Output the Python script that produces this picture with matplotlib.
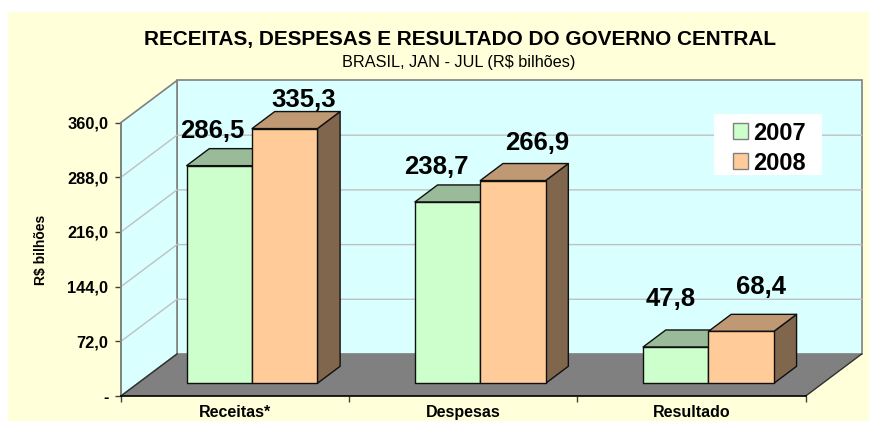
import matplotlib
matplotlib.use('Agg')
from matplotlib import pyplot as plt
from matplotlib.patches import Polygon, Patch, Rectangle

plt.rcParams['font.family'] = ['Liberation Sans', 'DejaVu Sans']

# Chart data
categories = ['Receitas*', 'Despesas', 'Resultado']
years = ['2007', '2008']
values_2007 = [286.5, 238.7, 47.8]
values_2008 = [335.3, 266.9, 68.4]
value_ticks = [0, 72, 144, 216, 288, 360]
value_tick_labels = ['-', '72,0', '144,0', '216,0', '288,0', '360,0']
value_max = 360

W, H = 869, 421

# Oblique projection: z=0 is the front plane, z=1 the back wall (in data units)
DEPTH_X = 0.2454
DEPTH_Y = 55.3
BAR_WIDTH = 0.2865
BAR_Z0, BAR_Z1 = 0.302, 0.707

GREEN = ('#CCFFCC', '#99BB99', '#668066')
ORANGE = ('#FFCC99', '#BF9973', '#80664C')

# Where each value label sits relative to the middle of its bar top (pixels)
label_shift_2007 = [(-7, 35), (-11, 35), (-5, 48)]
label_shift_2008 = [(19, 29), (24, 38), (20, 44)]


def project(x, v, z):
    return (x + z * DEPTH_X, v + z * DEPTH_Y)


def draw_walls(ax):
    back = [project(0, 0, 1), project(3, 0, 1), project(3, value_max, 1), project(0, value_max, 1)]
    side = [project(0, 0, 0), project(0, 0, 1), project(0, value_max, 1), project(0, value_max, 0)]
    floor = [project(0, 0, 0), project(3, 0, 0), project(3, 0, 1), project(0, 0, 1)]
    ax.add_patch(Polygon(back, fc='#D9FFFF', ec='#808080', lw=1.2, clip_on=False, zorder=1))
    ax.add_patch(Polygon(side, fc='#D9FFFF', ec='#808080', lw=1.2, clip_on=False, zorder=1))
    # gridlines run along the side wall and then across the back wall
    for v in value_ticks[1:-1]:
        pts = [project(0, v, 0), project(0, v, 1), project(3, v, 1)]
        ax.plot(*zip(*pts), color='#C0C0C0', lw=1.0, clip_on=False, zorder=2)
    ax.add_patch(Polygon(floor, fc='#808080', ec='none', clip_on=False, zorder=3))
    # dark edges of the floor
    for pts in ([project(0, 0, 0), project(0, 0, 1)], [project(3, 0, 0), project(3, 0, 1)]):
        ax.plot(*zip(*pts), color='#303030', lw=1.0, clip_on=False, zorder=3)


def draw_bar(ax, x0, value, colors, zorder):
    x1 = x0 + BAR_WIDTH
    front = [project(x0, 0, BAR_Z0), project(x1, 0, BAR_Z0), project(x1, value, BAR_Z0), project(x0, value, BAR_Z0)]
    top = [project(x0, value, BAR_Z0), project(x1, value, BAR_Z0), project(x1, value, BAR_Z1), project(x0, value, BAR_Z1)]
    side = [project(x1, 0, BAR_Z0), project(x1, 0, BAR_Z1), project(x1, value, BAR_Z1), project(x1, value, BAR_Z0)]
    for pts, fc in ((side, colors[2]), (top, colors[1]), (front, colors[0])):
        ax.add_patch(Polygon(pts, fc=fc, ec='#101010', lw=1.0, joinstyle='round', clip_on=False, zorder=zorder))


fig = plt.figure(figsize=(W / 100, H / 100), dpi=100, facecolor='white')
fig.add_artist(Rectangle((8 / W, 0), 1 - 8 / W, 1 - 12 / H, transform=fig.transFigure, fc='#FFFFD9', ec='none', zorder=-5))

ax = fig.add_axes([121 / W, 1 - 396 / H, (805.7 - 121) / W, (396 - 122.5) / H])
ax.patch.set_visible(False)
ax.set_xlim(0, 3)
ax.set_ylim(0, value_max)

draw_walls(ax)

for i in range(len(categories)):
    center = i + 0.5
    for x0, value, colors, shift, z in (
        (center - BAR_WIDTH, values_2007[i], GREEN, label_shift_2007[i], 4),
        (center, values_2008[i], ORANGE, label_shift_2008[i], 5),
    ):
        draw_bar(ax, x0, value, colors, z)
        ax.annotate(f'{value:.1f}'.replace('.', ','),
                    xy=project(x0 + BAR_WIDTH / 2, value, BAR_Z0),
                    xytext=(shift[0] * 0.72, shift[1] * 0.72), textcoords='offset points',
                    ha='center', va='center', fontsize=18.5, fontweight='bold',
                    color='black', zorder=8, annotation_clip=False)

# Axes, ticks and labels
for name in ('top', 'right'):
    ax.spines[name].set_visible(False)
ax.spines['left'].set_color('#808080')
ax.spines['left'].set_linewidth(1.2)
ax.spines['bottom'].set_color('black')
ax.spines['bottom'].set_linewidth(1.2)
ax.spines['bottom'].set_zorder(6)

ax.set_yticks(value_ticks)
ax.set_yticklabels(value_tick_labels, fontsize=11.8, fontweight='bold')
ax.tick_params(axis='y', length=4, width=1, color='#404040', pad=5)
ax.set_xticks(range(len(categories) + 1))
ax.set_xticklabels([])
ax.tick_params(axis='x', which='major', length=4, width=1, color='#404040')
ax.set_xticks([i + 0.5 for i in range(len(categories))], minor=True)
ax.set_xticklabels(categories, minor=True, fontsize=11.5, fontweight='bold')
ax.tick_params(axis='x', which='minor', length=0, pad=6.5)

fig.text(41.5 / W, 1 - 250 / H, 'R$ bilhões', rotation=90, ha='center', va='center', fontsize=10, fontweight='bold')
fig.text(460 / W, 1 - 40 / H, 'RECEITAS, DESPESAS E RESULTADO DO GOVERNO CENTRAL',
         ha='center', va='center', fontsize=14.95, fontweight='bold')
fig.text(459 / W, 1 - 62 / H, 'BRASIL, JAN - JUL (R$ bilhões)', ha='center', va='center', fontsize=11.7)

# Legend: white box behind a frameless legend, so box padding can differ per side
fig.add_artist(Rectangle((714 / W, 1 - 174.7 / H), 108 / W, 60.7 / H, transform=fig.transFigure,
                         fc='white', ec='none', zorder=1))
handles = [Patch(fc=GREEN[0], ec='#808080', lw=1.0, label=years[0]),
           Patch(fc=ORANGE[0], ec='#808080', lw=1.0, label=years[1])]
leg = fig.legend(handles=handles, loc='upper left', bbox_to_anchor=(733 / W, 1 - 121.5 / H),
                 frameon=False, borderpad=0, borderaxespad=0, handlelength=0.65, handleheight=0.65,
                 handletextpad=0.22, labelspacing=0.3, prop={'weight': 'bold', 'size': 17})
leg.set_zorder(2)

fig.savefig('out.png', dpi=100, facecolor=fig.get_facecolor())
